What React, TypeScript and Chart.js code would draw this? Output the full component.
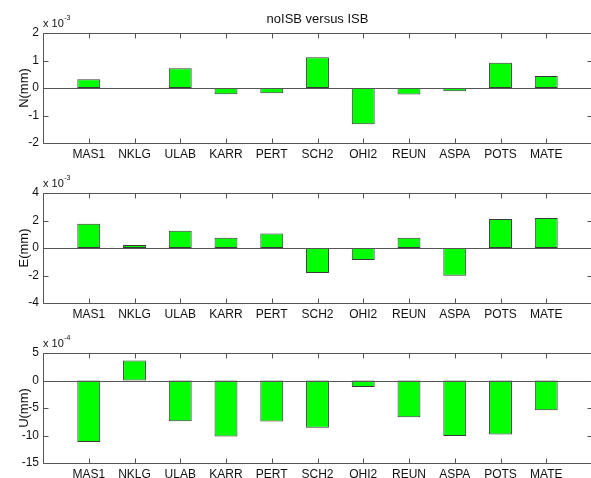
import React, { useEffect, useRef } from 'react';
import { Chart, registerables } from 'chart.js';

Chart.register(...registerables);

// ---------- data ----------
const stations = ['MAS1', 'NKLG', 'ULAB', 'KARR', 'PERT', 'SCH2', 'OHI2', 'REUN', 'ASPA', 'POTS', 'MATE'];

// values in mm
const nValues = [0.32e-3, 0, 0.72e-3, -0.23e-3, -0.19e-3, 1.12e-3, -1.32e-3, -0.24e-3, -0.12e-3, 0.92e-3, 0.44e-3];
const eValues = [1.77e-3, 0.22e-3, 1.26e-3, 0.75e-3, 1.06e-3, -1.82e-3, -0.87e-3, 0.75e-3, -2.01e-3, 2.11e-3, 2.18e-3];
const uValues = [-11.16e-4, 3.64e-4, -7.4e-4, -10.18e-4, -7.46e-4, -8.6e-4, -1.2e-4, -6.67e-4, -10.1e-4, -9.82e-4, -5.4e-4];

// tick labels (in units of 10^exponent)
const nTicks = [-2, -1, 0, 1, 2];
const eTicks = [-4, -2, 0, 2, 4];
const uTicks = [-15, -10, -5, 0, 5];

const nExponent = -3;
const eExponent = -3;
const uExponent = -4;

const titleText = 'noISB versus ISB';

// ---------- style ----------
const FONT = "'Liberation Sans', Arial, Helvetica, sans-serif";
const AXIS_COLOR = '#555555';
const BAR_FILL = '#00ff00';
const BAR_EDGE = '#3a3a3a';
const TEXT_COLOR = '#111111';
const CANVAS_W = 600;
const CANVAS_H = 160;

const framePlugin = {
  id: 'matlabFrame',
  afterDatasetsDraw(chart: any, _args: any, opts: any) {
    const { ctx, chartArea } = chart;
    const { left, right, top, bottom } = chartArea;
    const xs = chart.scales.x;
    const ys = chart.scales.y;
    const L = Math.round(left) + 0.5;
    const R = Math.round(right) + 0.5;
    const T = Math.round(top) + 0.5;
    const B = Math.round(bottom) + 0.5;
    const tl = 5;
    ctx.save();
    ctx.strokeStyle = AXIS_COLOR;
    ctx.lineWidth = 1;
    // box
    ctx.beginPath();
    ctx.moveTo(L, T); ctx.lineTo(R, T); ctx.lineTo(R, B); ctx.lineTo(L, B); ctx.closePath();
    ctx.stroke();
    // zero baseline
    const y0 = Math.round(ys.getPixelForValue(0)) + 0.5;
    ctx.beginPath();
    ctx.moveTo(L, y0); ctx.lineTo(R, y0);
    ctx.stroke();
    // y ticks (inside, both sides)
    ctx.beginPath();
    ys.ticks.forEach((_t: any, i: number) => {
      const y = Math.round(ys.getPixelForTick(i)) + 0.5;
      ctx.moveTo(L, y); ctx.lineTo(L + tl, y);
      ctx.moveTo(R, y); ctx.lineTo(R - tl, y);
    });
    // x ticks (inside, top and bottom)
    const labels = chart.data.labels as string[];
    xs.ticks.forEach((t: any, i: number) => {
      if (!labels[t.value]) return;
      const x = Math.round(xs.getPixelForTick(i)) + 0.5;
      ctx.moveTo(x, B); ctx.lineTo(x, B - tl);
      ctx.moveTo(x, T); ctx.lineTo(x, T + tl);
    });
    ctx.stroke();

    // exponent label "x 10^n"
    ctx.fillStyle = TEXT_COLOR;
    ctx.textAlign = 'left';
    ctx.textBaseline = 'alphabetic';
    ctx.font = `11px ${FONT}`;
    const base = 'x 10';
    ctx.fillText(base, left, top - 6);
    const w = ctx.measureText(base).width;
    ctx.font = `7px ${FONT}`;
    ctx.fillText(String(opts.exponent), left + w + 0.5, top - 13);

    // title
    if (opts.title) {
      ctx.font = `13px ${FONT}`;
      ctx.textAlign = 'center';
      ctx.textBaseline = 'middle';
      ctx.fillText(opts.title, (left + right) / 2, top - 14);
    }
    ctx.restore();
  },
};

type SubplotProps = {
  values: number[];
  ticks: number[];
  exponent: number;
  ylabel: string;
  title?: string;
  topOffset: number;
};

function Subplot({ values, ticks, exponent, ylabel, title, topOffset }: SubplotProps) {
  const ref = useRef<HTMLCanvasElement | null>(null);
  useEffect(() => {
    const canvas = ref.current;
    if (!canvas) return;
    const factor = Math.pow(10, exponent);
    const labels = ['', ...stations, ''];
    const data = [null, ...values, null];
    const chart = new Chart(canvas, {
      type: 'bar',
      data: {
        labels,
        datasets: [
          {
            data,
            backgroundColor: BAR_FILL,
            borderColor: BAR_EDGE,
            borderWidth: 1,
            borderSkipped: false,
            barPercentage: 0.5,
            categoryPercentage: 1,
          },
        ],
      },
      options: {
        responsive: false,
        animation: false,
        devicePixelRatio: 1,
        layout: { padding: { left: 0, top: 33, right: CANVAS_W - 592, bottom: 0 } },
        plugins: {
          legend: { display: false },
          tooltip: { enabled: false },
          matlabFrame: { exponent, title },
        } as any,
        scales: {
          x: {
            type: 'category',
            offset: false,
            grid: { display: false, drawTicks: false },
            border: { display: false },
            ticks: {
              autoSkip: false,
              maxRotation: 0,
              minRotation: 0,
              padding: 4,
              color: TEXT_COLOR,
              font: { family: FONT, size: 12 },
            },
            afterFit: (s: any) => {
              s.height = 17;
            },
          },
          y: {
            type: 'linear',
            min: ticks[0] * factor,
            max: ticks[ticks.length - 1] * factor,
            grid: { display: false, drawTicks: false },
            border: { display: false },
            afterBuildTicks: (s: any) => {
              s.ticks = ticks.map((t) => ({ value: t * factor }));
            },
            ticks: {
              padding: 4,
              color: TEXT_COLOR,
              font: { family: FONT, size: 12 },
              callback: (v: any) => String(Math.round(Number(v) / factor)),
            },
            title: {
              display: true,
              text: ylabel,
              color: TEXT_COLOR,
              font: { family: FONT, size: 13 },
              padding: { top: 17, bottom: 0 },
            },
            afterFit: (s: any) => {
              s.width = 43;
            },
          },
        },
      },
      plugins: [framePlugin],
    } as any);
    return () => chart.destroy();
  }, [values, ticks, exponent, ylabel, title]);

  return (
    <canvas
      ref={ref}
      width={CANVAS_W}
      height={CANVAS_H}
      style={{ position: 'absolute', left: 0, top: topOffset, width: CANVAS_W, height: CANVAS_H }}
    />
  );
}

export default function App() {
  return (
    <div
      style={{
        position: 'fixed',
        left: 0,
        top: 0,
        width: 591,
        height: 478,
        overflow: 'hidden',
        background: '#ffffff',
      }}
    >
      <Subplot values={nValues} ticks={nTicks} exponent={nExponent} ylabel="N(mm)" title={titleText} topOffset={0} />
      <Subplot values={eValues} ticks={eTicks} exponent={eExponent} ylabel="E(mm)" topOffset={160} />
      <Subplot values={uValues} ticks={uTicks} exponent={uExponent} ylabel="U(mm)" topOffset={320} />
    </div>
  );
}
